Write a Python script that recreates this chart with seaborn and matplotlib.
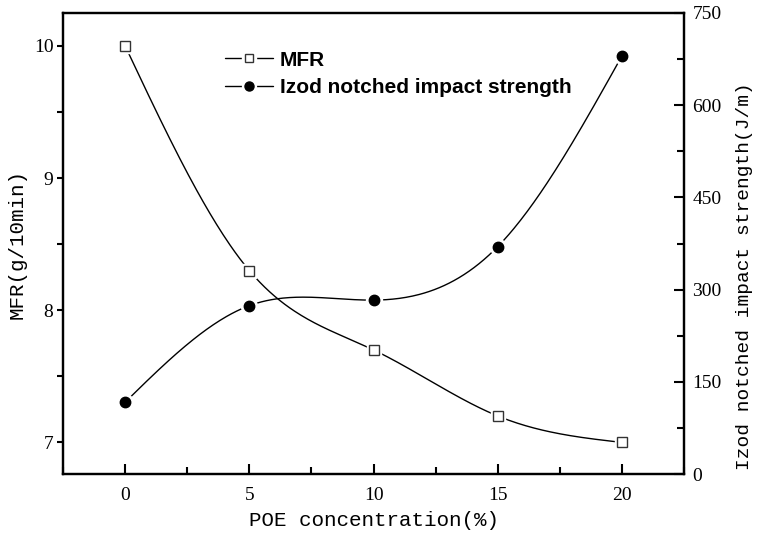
import numpy as np
import pandas as pd
import seaborn as sns
import matplotlib.pyplot as plt
from matplotlib.lines import Line2D
from matplotlib.ticker import MultipleLocator

poe = [0, 5, 10, 15, 20]
mfr = [10.0, 8.3, 7.7, 7.2, 7.0]
izod = [117, 274, 283, 370, 680]

mfr_label = 'MFR(g/10min)'
izod_label = 'Izod notched impact strength(J/m)'
x_label = 'POE concentration(%)'


def spline(x, y, n=300):
    # natural cubic spline, like the smoothed line in Origin
    x = np.asarray(x, float)
    y = np.asarray(y, float)
    h = np.diff(x)
    k = len(x)
    A = np.zeros((k, k))
    r = np.zeros(k)
    A[0, 0] = A[-1, -1] = 1
    for i in range(1, k - 1):
        A[i, i - 1] = h[i - 1]
        A[i, i] = 2 * (h[i - 1] + h[i])
        A[i, i + 1] = h[i]
        r[i] = 3 * ((y[i + 1] - y[i]) / h[i] - (y[i] - y[i - 1]) / h[i - 1])
    c = np.linalg.solve(A, r)
    b = (y[1:] - y[:-1]) / h - h * (2 * c[:-1] + c[1:]) / 3
    d = (c[1:] - c[:-1]) / (3 * h)
    xs = np.linspace(x[0], x[-1], n)
    idx = np.clip(np.searchsorted(x, xs) - 1, 0, k - 2)
    t = xs - x[idx]
    ys = y[idx] + b[idx] * t + c[idx] * t ** 2 + d[idx] * t ** 3
    return pd.DataFrame({'x': xs, 'y': ys})


sns.set_style('ticks')
plt.rcParams['font.family'] = ['Liberation Serif', 'DejaVu Serif']
plt.rcParams['text.color'] = 'black'
plt.rcParams['axes.labelcolor'] = 'black'
plt.rcParams['xtick.color'] = 'black'
plt.rcParams['ytick.color'] = 'black'

fig = plt.figure(figsize=(7.6, 5.4), dpi=100)
ax = fig.add_axes([0.083, 0.122, 0.817, 0.854])
ax2 = ax.twinx()

mfr_fit = spline(poe, mfr)
izod_fit = spline(poe, izod)

sns.lineplot(data=mfr_fit, x='x', y='y', ax=ax, color='black', lw=1.0)
ax.plot(poe, mfr, ls='', marker='s', ms=10.5, mfc='white', mec='white', zorder=3)
ax.plot(poe, mfr, ls='', marker='s', ms=6.5, mfc='white', mec='#333333', mew=1.0, zorder=4)

sns.lineplot(data=izod_fit, x='x', y='y', ax=ax2, color='black', lw=1.0)
ax2.plot(poe, izod, ls='', marker='o', ms=11.5, mfc='white', mec='white', zorder=3)
ax2.plot(poe, izod, ls='', marker='o', ms=7.5, mfc='black', mec='black', zorder=4)

ax.set_xlim(-2.5, 22.5)
ax.set_ylim(6.76, 10.25)
ax2.set_ylim(0, 750)

ax.xaxis.set_major_locator(MultipleLocator(5))
ax.xaxis.set_minor_locator(MultipleLocator(2.5))
ax.yaxis.set_major_locator(MultipleLocator(1))
ax.yaxis.set_minor_locator(MultipleLocator(0.5))
ax2.yaxis.set_major_locator(MultipleLocator(150))
ax2.yaxis.set_minor_locator(MultipleLocator(75))

for a in (ax, ax2):
    for s in a.spines.values():
        s.set_visible(True)
        s.set_linewidth(1.6)
        s.set_color('black')

ax.tick_params(axis='x', which='both', direction='in', top=False, width=1.5, labelsize=14, pad=9)
ax.tick_params(axis='x', which='major', length=7)
ax.tick_params(axis='x', which='minor', length=5)
ax.tick_params(axis='y', which='both', direction='out', length=4, width=1.5, labelsize=14, pad=3)
ax2.tick_params(axis='y', which='both', direction='in', width=1.5, labelsize=14, pad=6)
ax2.tick_params(axis='y', which='major', length=7)
ax2.tick_params(axis='y', which='minor', length=5)

mono = ['Liberation Mono', 'DejaVu Sans Mono']
ax.set_xlabel(x_label, fontsize=15, family=mono)
ax.set_ylabel(mfr_label, fontsize=15, family=mono)
ax2.set_ylabel(izod_label, fontsize=14, family=mono)
ax.xaxis.set_label_coords(0.5, -0.08)
ax.yaxis.set_label_coords(-0.058, 0.5)
ax2.yaxis.set_label_coords(1.084, 0.43)

h_mfr = (Line2D([], [], color='black', lw=1.0),
         Line2D([], [], ls='', marker='s', ms=10, mfc='white', mec='white'),
         Line2D([], [], ls='', marker='s', ms=6, mfc='white', mec='#333333', mew=1.0))
h_izod = (Line2D([], [], color='black', lw=1.0),
          Line2D([], [], ls='', marker='o', ms=10, mfc='white', mec='white'),
          Line2D([], [], ls='', marker='o', ms=6.5, mfc='black', mec='black'))
ax2.legend([h_mfr, h_izod], ['MFR', 'Izod notched impact strength'],
           loc='upper left', bbox_to_anchor=(0.261, 0.918), frameon=False,
           prop={'family': 'Liberation Sans', 'weight': 'bold', 'size': 15},
           handlelength=2.3, handletextpad=0.33, labelspacing=0.4,
           borderpad=0, borderaxespad=0)

fig.savefig('out.png', dpi=100)
